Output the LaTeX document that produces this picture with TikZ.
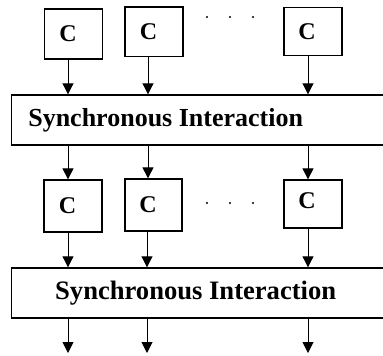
\documentclass[tikz,border=0pt]{standalone}
\usepackage{fontspec}
\setmainfont{Liberation Serif}
\usetikzlibrary{arrows.meta}
\begin{document}
\begin{tikzpicture}[x=1pt,y=-1pt,
  cbox/.style={draw,line width=1.3pt,rectangle,inner sep=0pt,
    font=\fontsize{24}{26}\selectfont\bfseries},
  syncbox/.style={draw,line width=1.4pt,rectangle,inner sep=0pt,
    minimum width=384pt,minimum height=50pt,anchor=west,
    font=\fontsize{26}{28}\selectfont\bfseries},
  arr/.style={line width=1pt,-{Triangle[width=11pt,length=11pt]}},
  dot/.style={fill=black}]
\useasboundingbox (0,0) rectangle (383,356);

% column positions of the signal lines
\coordinate (x1) at (68,0);
\coordinate (x2) at (148,0);
\coordinate (x3) at (308,0);
\coordinate (e1) at (68,353);
\coordinate (e2) at (147,353);
\coordinate (e3) at (308,353);

% first row of components (label set slightly left of centre)
\node[cbox,minimum width=58pt,minimum height=50pt]   (a1) at (73.5,34)   {C\kern11pt};
\node[cbox,minimum width=58pt,minimum height=49.5pt] (a2) at (154,31.8)  {C\kern11pt};
\node[cbox,minimum width=58pt,minimum height=48.5pt] (a3) at (313,31.5)  {C\kern12pt};

% first interaction layer
\node[syncbox] (s1) at (11,120) {Synchronous Interaction\kern76pt};

% second row of components
\node[cbox,minimum width=58pt,minimum height=52pt] (b1) at (73,206)    {C\kern11pt};
\node[cbox,minimum width=57pt,minimum height=52pt] (b2) at (153.5,205) {C\kern11pt};
\node[cbox,minimum width=58pt,minimum height=48pt] (b3) at (313,204)   {\raisebox{7pt}{C}\kern12pt};

% second interaction layer
\node[syncbox,font=\fontsize{26.6}{28}\selectfont\bfseries] (s2) at (11,293) {Synchronous Interaction\kern16pt};

% ellipses between components
\foreach \y in {17,203}{
  \fill[dot] (207,\y) circle (1.2);
  \fill[dot] (230,\y) circle (1.2);
  \fill[dot] (253,\y) circle (1.2);
}

% components into first layer
\draw[arr] (a1.south -| x1) -- (s1.north -| x1);
\draw[arr] (a2.south -| x2) -- (s1.north -| x2);
\draw[arr] (a3.south -| x3) -- (s1.north -| x3);

% first layer into second row
\draw[arr] (s1.south -| x1) -- (b1.north -| x1);
\draw[arr] (s1.south -| x2) -- (b2.north -| x2);
\draw[arr] (s1.south -| x3) -- (b3.north -| x3);

% second row into second layer
\draw[arr] (b1.south -| e1) -- (s2.north -| e1);
\draw[arr] (b2.south -| e2) -- (s2.north -| e2);
\draw[arr] (b3.south -| e3) -- (s2.north -| e3);

% outputs
\draw[arr] (s2.south -| e1) -- (e1);
\draw[arr] (s2.south -| e2) -- (e2);
\draw[arr] (s2.south -| e3) -- (e3);
\end{tikzpicture}
\end{document}
